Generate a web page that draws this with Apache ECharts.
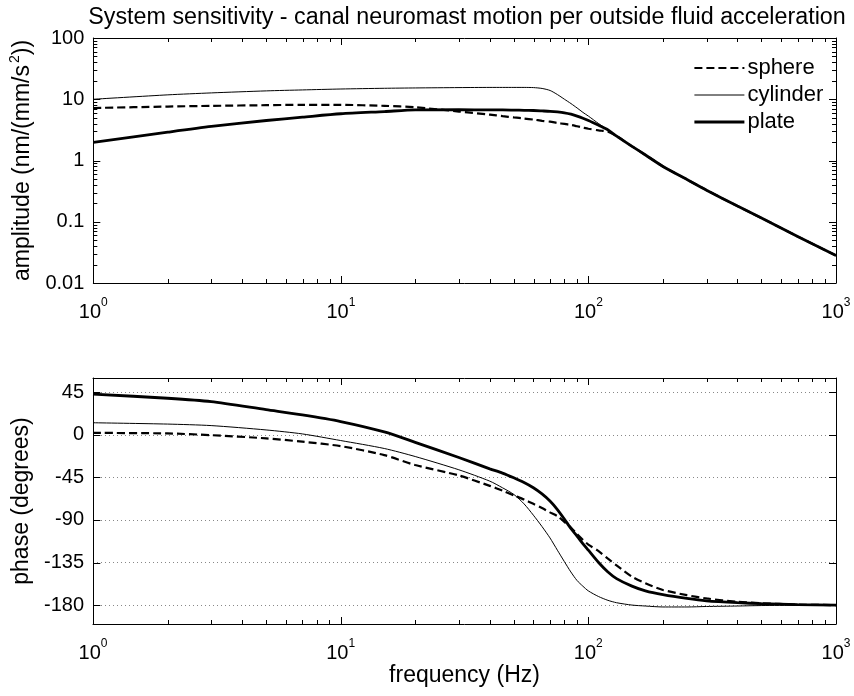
<!DOCTYPE html>
<html>
<head>
<meta charset="utf-8">
<script src="https://cdn.jsdelivr.net/npm/echarts@6/dist/echarts.min.js"></script>
<style>
html,body{margin:0;padding:0;background:#fff;}
#chart{width:854px;height:696px;}
</style>
</head>
<body>
<div id="chart"></div>
<script>
// ---- data ----
const freq = [1, 2, 3, 5, 7, 10, 15, 20, 30, 40, 45, 50, 55, 60, 65, 70, 75, 80, 85, 90, 95, 100, 110, 120, 130, 150, 170, 200, 250, 300, 400, 500, 700, 1000];

const ampSphere   = [7.2, 7.6, 7.8, 8.0, 8.1, 8.1, 7.8, 7.4, 6.3, 5.6, 5.3, 5.05, 4.85, 4.65, 4.45, 4.3, 4.1, 3.95, 3.8, 3.62, 3.45, 3.3, 3.1, 2.95, 2.5, 1.7, 1.23, 0.80, 0.49, 0.328, 0.18, 0.115, 0.0576, 0.028];
const ampCylinder = [10.0, 11.8, 12.7, 13.7, 14.2, 14.7, 15.1, 15.3, 15.5, 15.6, 15.6, 15.6, 15.6, 15.5, 15.0, 13.9, 11.9, 10.0, 8.5, 7.2, 6.1, 5.3, 4.0, 3.15, 2.5, 1.7, 1.23, 0.80, 0.49, 0.328, 0.18, 0.115, 0.0576, 0.028];
const ampPlate    = [1.97, 2.9, 3.6, 4.5, 5.1, 5.8, 6.3, 6.7, 6.75, 6.7, 6.7, 6.65, 6.6, 6.55, 6.45, 6.35, 6.2, 6.0, 5.7, 5.3, 4.9, 4.5, 3.75, 3.15, 2.5, 1.7, 1.23, 0.80, 0.49, 0.328, 0.18, 0.115, 0.0576, 0.028];

const phSphere   = [2, 1.4, -0.4, -3.8, -7.3, -12, -21.5, -32, -43, -54, -59, -64, -68.5, -73, -77.5, -82, -86, -92, -98, -105, -111, -116, -123, -131, -138, -150, -157, -164, -169.5, -173, -176.5, -178, -179.5, -180];
const phCylinder = [12.7, 11.3, 9.7, 5.1, 0.9, -6.1, -14.5, -23, -37, -49, -56, -63, -73, -85, -97, -109, -122, -134, -145, -154, -160, -165, -171, -175, -177.5, -180, -181, -182, -182, -181.5, -181, -180.5, -180.2, -180];
const phPlate    = [43, 38.6, 35, 26.5, 21, 14, 3, -8, -24, -36, -40.5, -45.5, -50.5, -56, -62.5, -70, -79, -89, -99, -107, -115, -122, -135, -145, -152, -160, -165, -169, -173, -175.5, -177.5, -178.5, -179.5, -180];

const seriesNames = ['sphere', 'cylinder', 'plate'];
const freqMajorTicks = [1, 10, 100, 1000];
const freqMinorTicks = [2,3,4,5,6,7,8,9,20,30,40,50,60,70,80,90,200,300,400,500,600,700,800,900];
const ampMajorTicks = [0.01, 0.1, 1, 10, 100];
const ampMinorTicks = [0.02,0.03,0.04,0.05,0.06,0.07,0.08,0.09,0.2,0.3,0.4,0.5,0.6,0.7,0.8,0.9,2,3,4,5,6,7,8,9,20,30,40,50,60,70,80,90];
const phaseTicks = [-180, -135, -90, -45, 0, 45];

// ---- chart ----
const FONT = 'Liberation Sans, Arial, Helvetica, sans-serif';
const chart = echarts.init(document.getElementById('chart'), null, {renderer: 'canvas'});

function zip(xs, ys) { return xs.map((x, i) => [x, ys[i]]); }

const lineStyles = {
  sphere:   {color: '#000', width: 2.2, type: [8, 4]},
  cylinder: {color: '#000', width: 1},
  plate:    {color: '#000', width: 2.8}
};

function lineSeries(name, xi, yi, data) {
  return {
    name: name, type: 'line', xAxisIndex: xi, yAxisIndex: yi,
    data: data, symbol: 'none', showSymbol: false, smooth: 0.25,
    lineStyle: lineStyles[name], itemStyle: {color: '#000'},
    emphasis: {disabled: true}, animation: false, z: 3
  };
}

const xLabelRich = {
  b: {fontSize: 20, fontFamily: FONT, color: '#000'},
  s: {fontSize: 12, fontFamily: FONT, color: '#000', padding: [0, 0, 18, 0]}
};

function xAxisCfg(gridIndex, pos, showLabel, name) {
  return {
    type: 'log', logBase: 10, min: 1, max: 1000, gridIndex: gridIndex, position: pos,
    axisLine: {show: true, onZero: false, lineStyle: {color: '#000', width: 1}},
    axisTick: {show: false},
    splitLine: {show: false},
    minorTick: {show: false},
    axisLabel: {
      show: showLabel, margin: 14,
      formatter: function (v) { return '{b|10}{s|' + Math.round(Math.log10(v)) + '}'; },
      rich: xLabelRich
    },
    name: name || '', nameLocation: 'middle', nameGap: 33,
    nameTextStyle: {fontSize: 23, fontFamily: FONT, color: '#000'}
  };
}

const option = {
  backgroundColor: '#fff',
  animation: false,
  title: {
    text: 'System sensitivity - canal neuromast motion per outside fluid acceleration',
    left: 462, top: 1, textAlign: 'center',
    textStyle: {fontSize: 23.3, fontWeight: 'normal', fontFamily: FONT, color: '#000'}
  },
  legend: {
    data: seriesNames, orient: 'vertical', left: 688, top: 52,
    itemWidth: 50, itemHeight: 14, itemGap: 5,
    textStyle: {fontSize: 22, lineHeight: 22, fontFamily: FONT, color: '#000', padding: [0, 0, 0, -2]},
    itemStyle: {color: 'rgba(0,0,0,0)', borderColor: 'rgba(0,0,0,0)', borderWidth: 0, opacity: 0},
    lineStyle: {width: 'inherit', type: 'inherit', color: '#000'},
    selectedMode: false, backgroundColor: 'transparent'
  },
  grid: [
    {left: 93, top: 38, width: 743, height: 245},
    {left: 93, top: 378, width: 743, height: 246}
  ],
  xAxis: [
    xAxisCfg(0, 'bottom', true),
    xAxisCfg(0, 'top', false),
    xAxisCfg(1, 'bottom', true, 'frequency (Hz)'),
    xAxisCfg(1, 'top', false)
  ],
  yAxis: [
    {
      type: 'log', logBase: 10, min: 0.01, max: 100, gridIndex: 0, position: 'left',
      axisLine: {show: true, lineStyle: {color: '#000'}},
      axisTick: {show: false},
      splitLine: {show: false},
      axisLabel: {show: true, margin: 9, fontSize: 20, fontFamily: FONT, color: '#000',
        formatter: v => String(+(+v).toPrecision(3))},
      name: '{a|amplitude (nm/(mm/s}{s|2}{a|))}', nameLocation: 'middle', nameRotate: 90, nameGap: 54,
      nameTextStyle: {rich: {
        a: {fontSize: 23, fontFamily: FONT, color: '#000'},
        s: {fontSize: 14, fontFamily: FONT, color: '#000', padding: [0, 0, 16, 2]}
      }}
    },
    {
      type: 'log', logBase: 10, min: 0.01, max: 100, gridIndex: 0, position: 'right',
      axisLine: {show: true, lineStyle: {color: '#000'}},
      axisTick: {show: false},
      splitLine: {show: false}, axisLabel: {show: false}
    },
    {
      type: 'value', min: -200, max: 60, gridIndex: 1, position: 'left',
      axisLine: {show: true, onZero: false, lineStyle: {color: '#000'}},
      axisTick: {show: false, customValues: phaseTicks},
      splitLine: {show: true, lineStyle: {color: '#888', type: [1, 3], width: 1}},
      axisLabel: {show: true, margin: 9, fontSize: 20, fontFamily: FONT, color: '#000', customValues: phaseTicks},
      name: 'phase (degrees)', nameLocation: 'middle', nameRotate: 90, nameGap: 56,
      nameTextStyle: {fontSize: 23, fontFamily: FONT, color: '#000'}
    },
    {
      type: 'value', min: -200, max: 60, gridIndex: 1, position: 'right',
      axisLine: {show: true, onZero: false, lineStyle: {color: '#000'}},
      axisTick: {show: false},
      splitLine: {show: false}, axisLabel: {show: false}
    }
  ],
  series: [
    lineSeries('sphere', 0, 0, zip(freq, ampSphere)),
    lineSeries('cylinder', 0, 0, zip(freq, ampCylinder)),
    lineSeries('plate', 0, 0, zip(freq, ampPlate)),
    lineSeries('sphere', 2, 2, zip(freq, phSphere)),
    lineSeries('cylinder', 2, 2, zip(freq, phCylinder)),
    lineSeries('plate', 2, 2, zip(freq, phPlate))
  ]
};
chart.setOption(option);

// ---- inward box ticks, placed through the axes' own scales ----
function addTicks() {
  const els = [];
  const seg = (x1, y1, x2, y2) => els.push({type: 'line', silent: true, z: 10,
    shape: {x1: x1, y1: y1, x2: x2, y2: y2}, style: {stroke: '#000', lineWidth: 1}});
  const px = (finder, v) => chart.convertToPixel(finder, v);

  const MAJ = 7, MIN = 4;
  const xL = px({xAxisIndex: 0}, 1), xR = px({xAxisIndex: 0}, 1000);
  const grids = [
    {xi: 0, top: px({yAxisIndex: 0}, 100), bottom: px({yAxisIndex: 0}, 0.01)},
    {xi: 2, top: px({yAxisIndex: 2}, 60), bottom: px({yAxisIndex: 2}, -200)}
  ];
  grids.forEach(g => {
    freqMajorTicks.forEach(v => {
      const x = Math.round(px({xAxisIndex: g.xi}, v)) + 0.5;
      seg(x, g.bottom, x, g.bottom - MAJ); seg(x, g.top, x, g.top + MAJ);
    });
    freqMinorTicks.forEach(v => {
      const x = Math.round(px({xAxisIndex: g.xi}, v)) + 0.5;
      seg(x, g.bottom, x, g.bottom - MIN); seg(x, g.top, x, g.top + MIN);
    });
  });
  ampMajorTicks.forEach(v => {
    const y = Math.round(px({yAxisIndex: 0}, v)) + 0.5;
    seg(xL, y, xL + MAJ, y); seg(xR, y, xR - MAJ, y);
  });
  ampMinorTicks.forEach(v => {
    const y = Math.round(px({yAxisIndex: 0}, v)) + 0.5;
    seg(xL, y, xL + MIN, y); seg(xR, y, xR - MIN, y);
  });
  phaseTicks.forEach(v => {
    const y = Math.round(px({yAxisIndex: 2}, v)) + 0.5;
    seg(xL, y, xL + MAJ, y); seg(xR, y, xR - MAJ, y);
  });
  chart.setOption({graphic: {elements: els}});
}
addTicks();
</script>
</body>
</html>
